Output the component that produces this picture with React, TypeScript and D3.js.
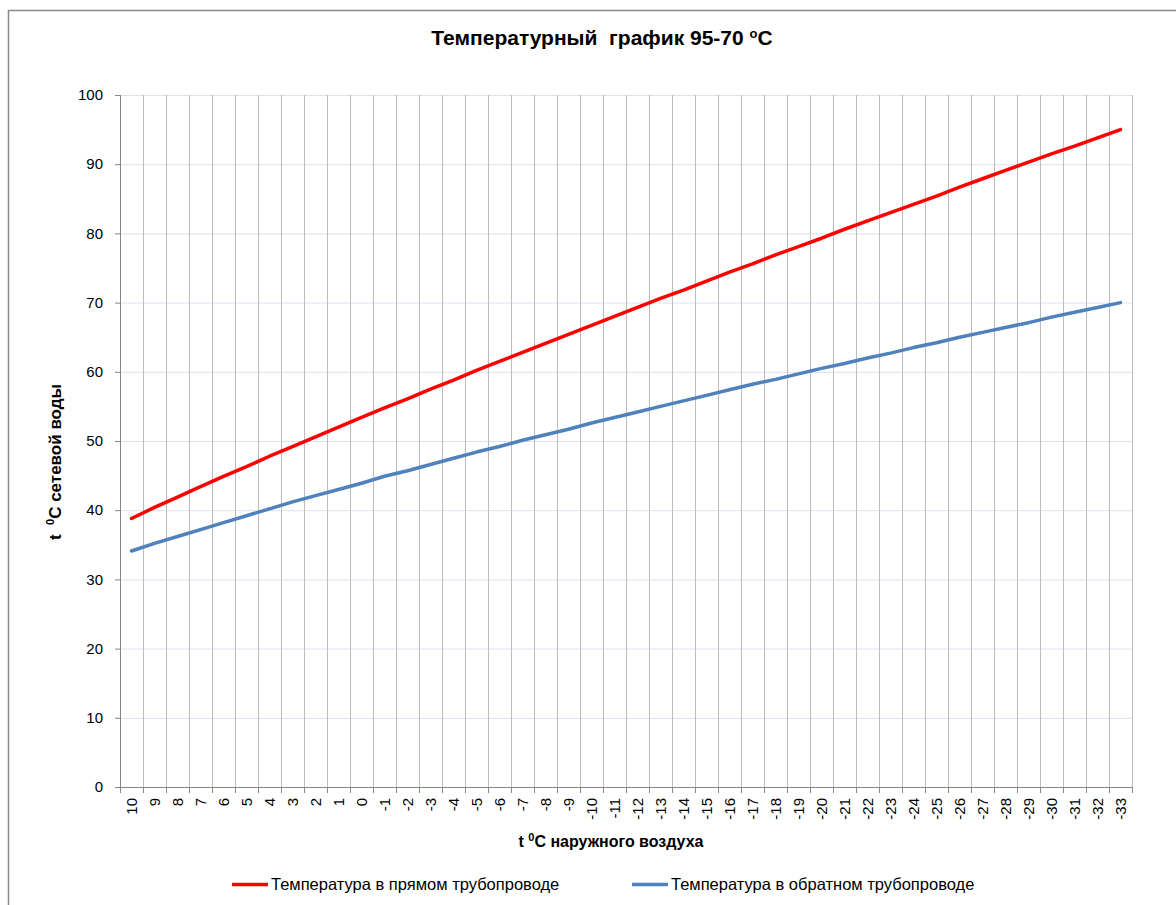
import React from "react";
import * as d3 from "d3";

// outdoor temperature categories, +10 .. -33
const outdoor = [
  10, 9, 8, 7, 6, 5, 4, 3, 2, 1, 0, -1, -2, -3, -4, -5, -6, -7, -8, -9, -10, -11,
  -12, -13, -14, -15, -16, -17, -18, -19, -20, -21, -22, -23, -24, -25, -26, -27,
  -28, -29, -30, -31, -32, -33,
];

// supply pipe temperature
const supply = [
  38.8, 40.4, 41.9, 43.4, 44.9, 46.3, 47.8, 49.2, 50.6, 52.0, 53.4, 54.8, 56.1,
  57.5, 58.8, 60.2, 61.5, 62.8, 64.1, 65.4, 66.7, 68.0, 69.3, 70.6, 71.8, 73.1,
  74.4, 75.6, 76.9, 78.1, 79.3, 80.6, 81.8, 83.0, 84.2, 85.4, 86.7, 87.9, 89.1,
  90.3, 91.5, 92.6, 93.8, 95.0,
];

// return pipe temperature
const back = [
  34.1, 35.2, 36.2, 37.2, 38.2, 39.2, 40.2, 41.2, 42.1, 43.0, 43.9, 44.9, 45.7,
  46.6, 47.5, 48.4, 49.2, 50.1, 50.9, 51.7, 52.6, 53.4, 54.2, 55.0, 55.8, 56.6,
  57.4, 58.2, 58.9, 59.7, 60.5, 61.2, 62.0, 62.7, 63.5, 64.2, 65.0, 65.7, 66.4,
  67.1, 67.9, 68.6, 69.3, 70.0,
];

const yTicks = [0, 10, 20, 30, 40, 50, 60, 70, 80, 90, 100];

const series = [
  { name: "Температура в прямом трубопроводе", values: supply, color: "#ff0000" },
  { name: "Температура в обратном трубопроводе", values: back, color: "#4f81bd" },
];

const W = 1176;
const H = 905;
const plot = { left: 120, right: 1132, top: 95, bottom: 787 };

export default function App() {
  const x = d3
    .scaleBand<string>()
    .domain(outdoor.map(String))
    .range([plot.left, plot.right])
    .padding(0);
  const y = d3.scaleLinear().domain([0, 100]).range([plot.bottom, plot.top]);

  const line = d3
    .line<number>()
    .x((d, i) => (x(String(outdoor[i])) as number) + x.bandwidth() / 2)
    .y((d) => y(d));

  const bounds = outdoor.map((c) => x(String(c)) as number).concat([plot.right]);
  const font = "'Liberation Sans', Arial, sans-serif";

  return (
    <svg
      width={W}
      height={H}
      style={{ position: "absolute", left: 0, top: 0, background: "#fff" }}
      fontFamily={font}
    >
      <rect x={8.5} y={10.5} width={1200} height={1000} fill="#fff" stroke="#888" strokeWidth={1.5} />

      <text x={602} y={45} textAnchor="middle" fontSize={21} fontWeight="bold" fill="#000" style={{ whiteSpace: "pre" }}>
        {"Температурный  график 95-70 "}
        <tspan fontSize={13} dy={-7}>o</tspan>
        <tspan dy={7}>C</tspan>
      </text>

      {/* horizontal gridlines */}
      {yTicks.map((t) => (
        <line key={"h" + t} x1={plot.left} x2={plot.right} y1={y(t) + 0.5} y2={y(t) + 0.5} stroke="#d9e2ee" strokeWidth={1} />
      ))}
      {/* vertical gridlines */}
      {bounds.slice(1).map((b, i) => (
        <line key={"v" + i} x1={Math.round(b) + 0.5} x2={Math.round(b) + 0.5} y1={plot.top} y2={plot.bottom} stroke="#bcbcbc" strokeWidth={1} />
      ))}

      {/* axes */}
      <line x1={plot.left + 0.5} x2={plot.left + 0.5} y1={plot.top} y2={plot.bottom} stroke="#868686" />
      <line x1={plot.left} x2={plot.right} y1={plot.bottom + 0.5} y2={plot.bottom + 0.5} stroke="#868686" />
      {yTicks.map((t) => (
        <g key={"yt" + t}>
          <line x1={plot.left - 5} x2={plot.left} y1={y(t) + 0.5} y2={y(t) + 0.5} stroke="#868686" />
          <text x={103} y={y(t)} dy="0.35em" textAnchor="end" fontSize={15} fill="#000">
            {t}
          </text>
        </g>
      ))}
      {bounds.map((b, i) => (
        <line key={"xt" + i} x1={Math.round(b) + 0.5} x2={Math.round(b) + 0.5} y1={plot.bottom} y2={plot.bottom + 6} stroke="#868686" />
      ))}
      {outdoor.map((c) => {
        const cx = (x(String(c)) as number) + x.bandwidth() / 2;
        return (
          <text
            key={"xl" + c}
            transform={`translate(${cx},${plot.bottom + 11}) rotate(-90)`}
            textAnchor="end"
            dy="0.35em"
            fontSize={15}
            fill="#000"
          >
            {c}
          </text>
        );
      })}

      {/* axis titles */}
      <text x={611} y={847} textAnchor="middle" fontSize={16} fontWeight="bold" fill="#000">
        t <tspan fontSize={11} dy={-6}>0</tspan>
        <tspan dy={6}>C наружного воздуха</tspan>
      </text>
      <text transform="translate(61,462) rotate(-90)" textAnchor="middle" fontSize={17} fontWeight="bold" fill="#000" style={{ whiteSpace: "pre" }}>
        {"t  "}<tspan fontSize={11} dy={-7}>0</tspan>
        <tspan dy={7}>C сетевой воды</tspan>
      </text>

      {/* series */}
      {series.map((s) => (
        <path key={s.name} d={line(s.values) || ""} fill="none" stroke={s.color} strokeWidth={3.5} strokeLinejoin="round" strokeLinecap="round" />
      ))}

      {/* legend */}
      {series.map((s, i) => {
        const lx = 232 + i * 400;
        return (
          <g key={"lg" + i}>
            <line x1={lx} x2={lx + 36} y1={884.5} y2={884.5} stroke={s.color} strokeWidth={3.5} />
            <text x={lx + 39} y={884} dy="0.35em" fontSize={16.5} fill="#000">
              {s.name}
            </text>
          </g>
        );
      })}
    </svg>
  );
}
